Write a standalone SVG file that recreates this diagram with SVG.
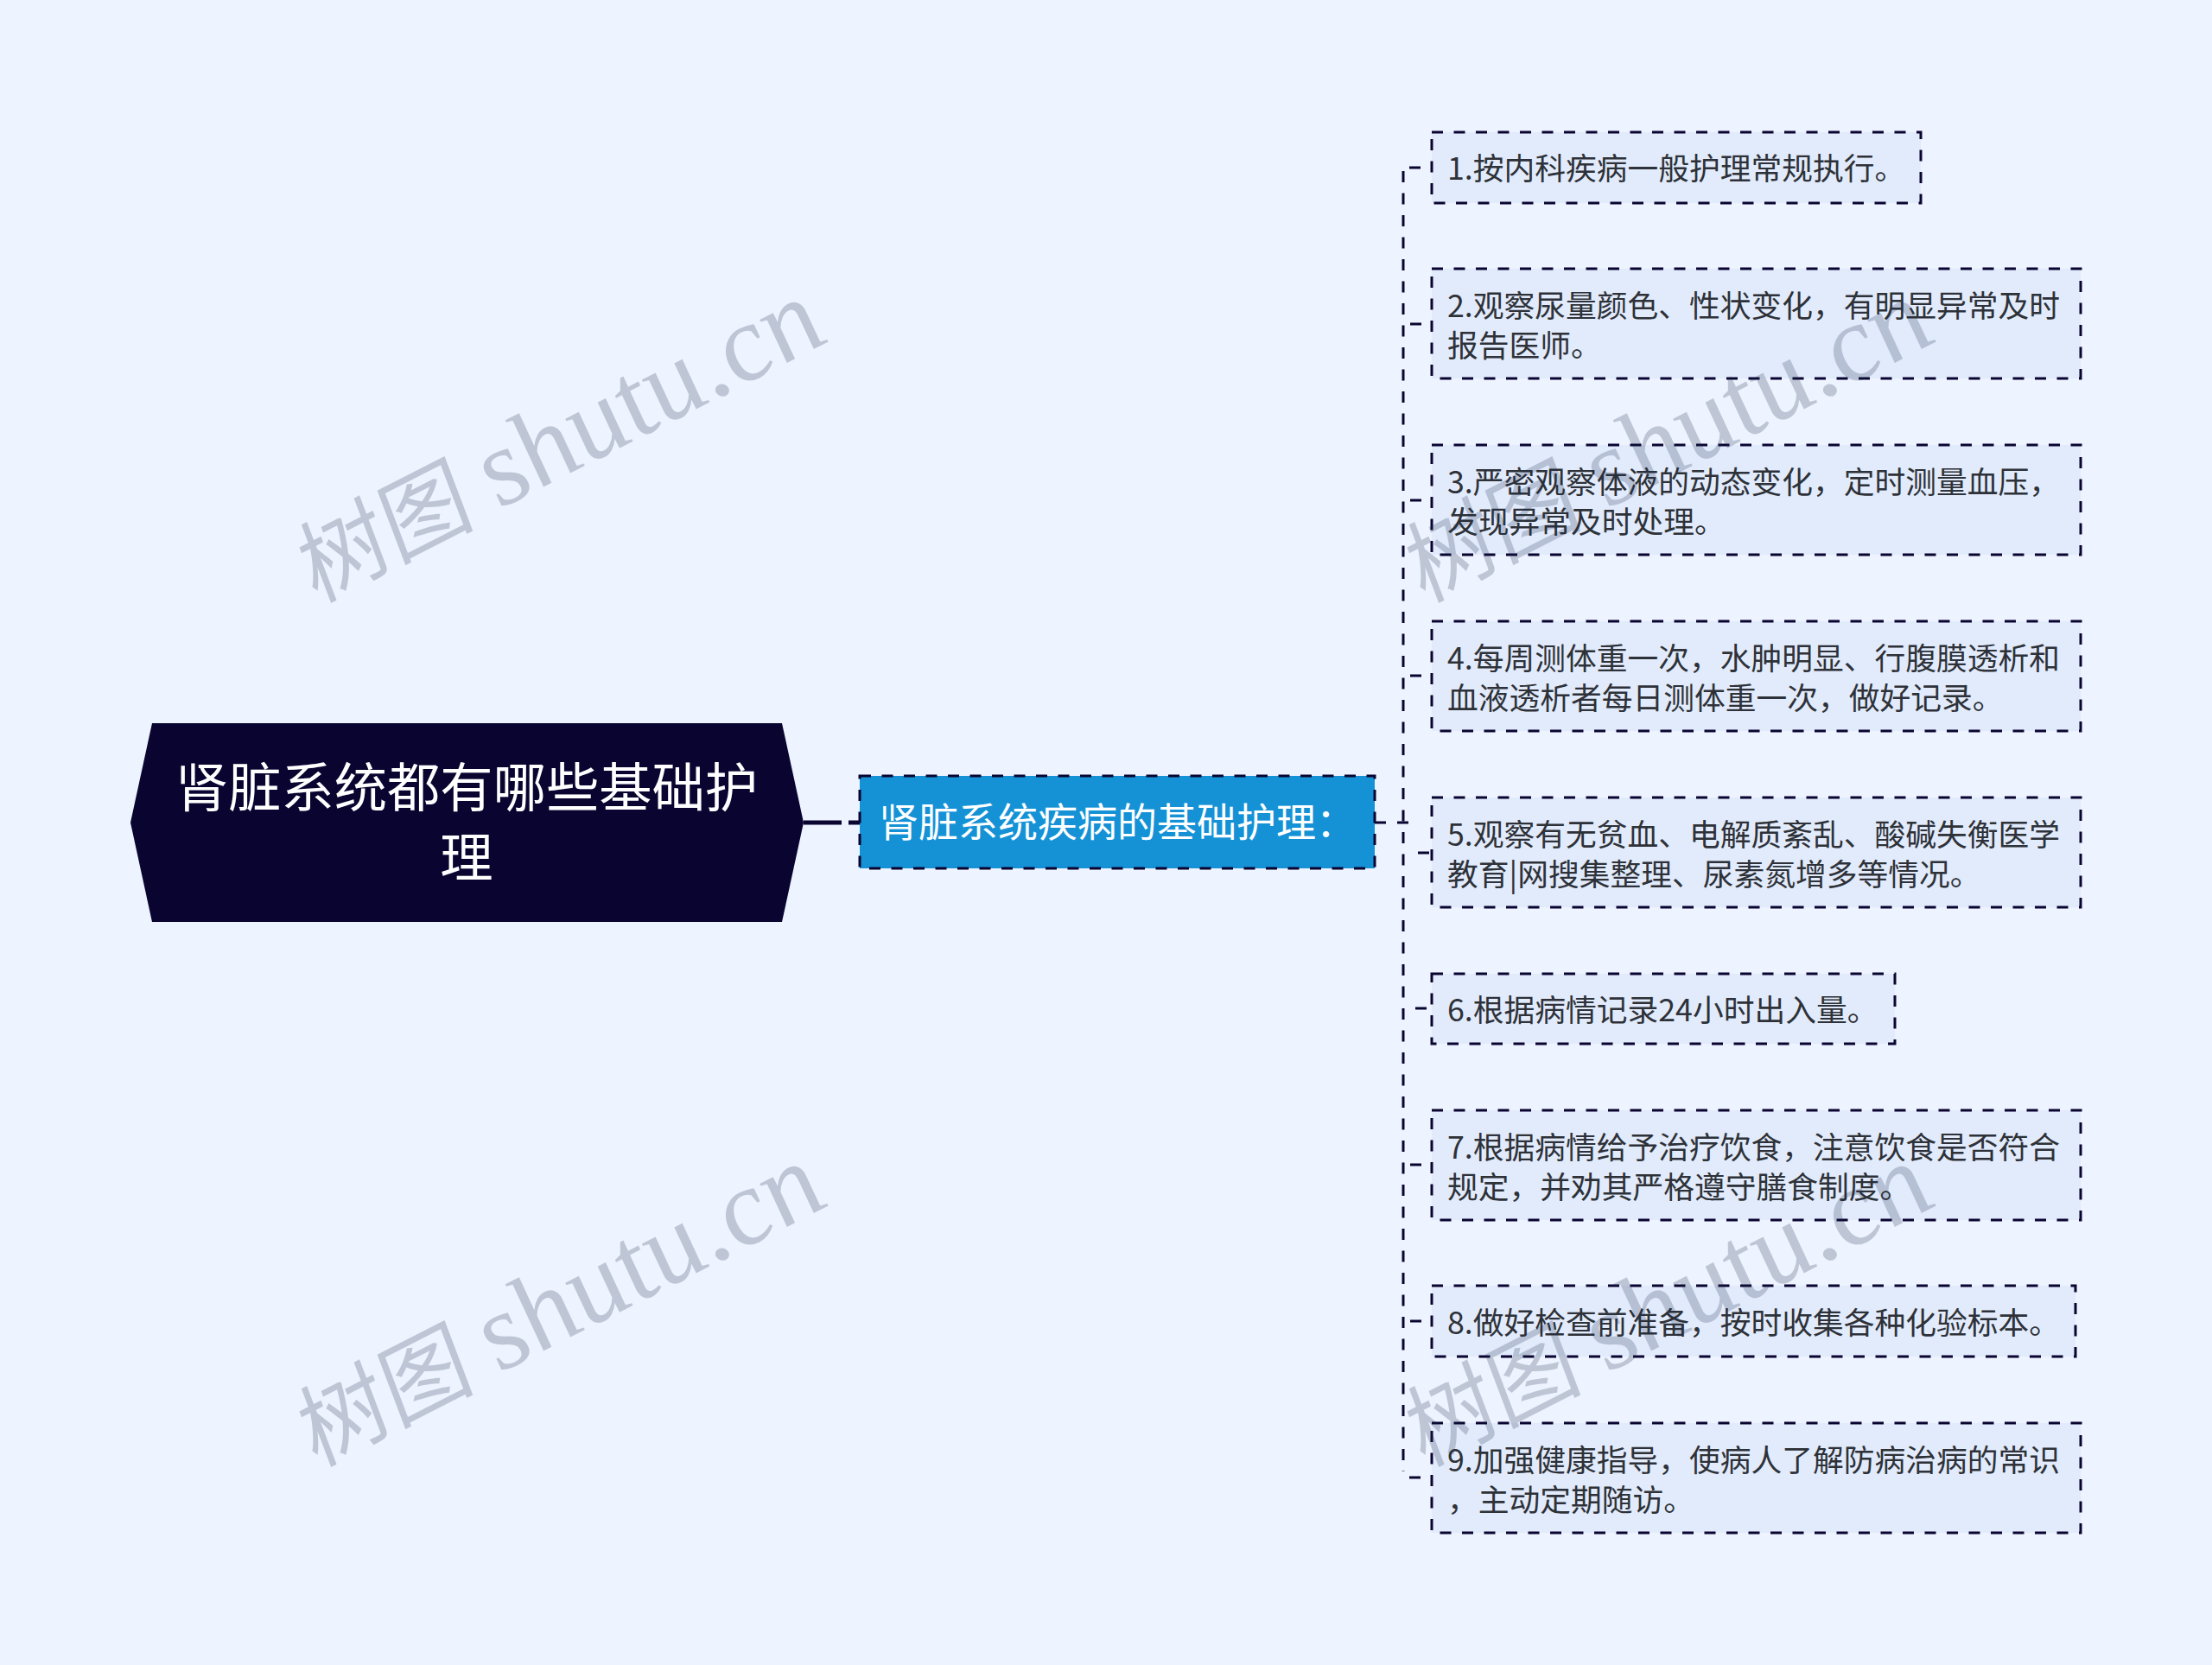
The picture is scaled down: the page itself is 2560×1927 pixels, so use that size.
<svg xmlns="http://www.w3.org/2000/svg" width="2560" height="1927" viewBox="0 0 2560 1927">
<style>
text{font-family:"Noto Sans CJK SC","Noto Sans",sans-serif}
.leaf rect{fill:#E2EBFC;stroke:#0A0530;stroke-width:3;stroke-dasharray:13 12.5}
.leaf text{font-size:35.75px;fill:#2E3238}
.con path{fill:none;stroke:#0A0530;stroke-width:3;stroke-dasharray:13 12.5}
.wm{font-family:"Liberation Serif","Noto Sans CJK SC",serif;font-style:italic;font-size:128px;fill:#1A2A4A;opacity:.22}
.wm .c{font-family:"Noto Sans CJK SC",serif;font-size:105px}
</style>
<rect width="2560" height="1927" fill="#EDF3FF"/>
<g id="connectors" class="con">
<path d="M930 952H974" style="stroke-width:5;stroke-dasharray:none"/>
<path d="M982 952H995" style="stroke-width:5;stroke-dasharray:none"/>
<path d="M1591 952H1604M1617 952H1630"/>
<path d="M1624 198V1703"/>
<path d="M1631 194H1644M1631 1710H1644M1632 375H1645M1632 579H1645M1632 782H1645M1641 987H1654M1638 1167H1651M1632 1348H1645M1632 1529H1645"/>
</g>
<g id="root"><path d="M176 837H905L930 952L905 1067H176L151 952Z" fill="#0A0530"/>
<text x="540" y="934" font-size="61.3" fill="#fff" text-anchor="middle">肾脏系统都有哪些基础护</text>
<text x="540" y="1015" font-size="61.3" fill="#fff" text-anchor="middle">理</text></g>
<g id="center"><rect x="995" y="898" width="596" height="107" fill="#1592D6" stroke="#0A0530" stroke-width="3" stroke-dasharray="13 12.5"/>
<text x="1017" y="968" font-size="46" fill="#fff">肾脏系统疾病的基础护理：</text></g>
<g id="n1" class="leaf"><rect x="1657" y="153" width="566" height="82"/><text x="1675" y="208">1.按内科疾病一般护理常规执行。</text></g>
<g id="n2" class="leaf"><rect x="1657" y="311" width="751" height="127"/><text x="1675" y="367">2.观察尿量颜色、性状变化，有明显异常及时</text><text x="1675" y="413">报告医师。</text></g>
<g id="n3" class="leaf"><rect x="1657" y="515" width="751" height="127"/><text x="1675" y="571">3.严密观察体液的动态变化，定时测量血压，</text><text x="1675" y="617">发现异常及时处理。</text></g>
<g id="n4" class="leaf"><rect x="1657" y="719" width="751" height="127"/><text x="1675" y="775">4.每周测体重一次，水肿明显、行腹膜透析和</text><text x="1675" y="821">血液透析者每日测体重一次，做好记录。</text></g>
<g id="n5" class="leaf"><rect x="1657" y="923" width="751" height="127"/><text x="1675" y="979">5.观察有无贫血、电解质紊乱、酸碱失衡医学</text><text x="1675" y="1025">教育|网搜集整理、尿素氮增多等情况。</text></g>
<g id="n6" class="leaf"><rect x="1657" y="1127" width="536" height="81"/><text x="1675" y="1182">6.根据病情记录24小时出入量。</text></g>
<g id="n7" class="leaf"><rect x="1657" y="1285" width="751" height="127"/><text x="1675" y="1341">7.根据病情给予治疗饮食，注意饮食是否符合</text><text x="1675" y="1387">规定，并劝其严格遵守膳食制度。</text></g>
<g id="n8" class="leaf"><rect x="1657" y="1488" width="745" height="82"/><text x="1675" y="1544">8.做好检查前准备，按时收集各种化验标本。</text></g>
<g id="n9" class="leaf"><rect x="1657" y="1647" width="751" height="127"/><text x="1675" y="1703">9.加强健康指导，使病人了解防病治病的常识</text><text x="1675" y="1749">，主动定期随访。</text></g>
<g id="watermarks">
<text class="wm" transform="translate(365 698) rotate(-27) skewX(8)"><tspan class="c">树图</tspan> shutu.cn</text>
<text class="wm" transform="translate(1647 698) rotate(-27) skewX(8)"><tspan class="c">树图</tspan> shutu.cn</text>
<text class="wm" transform="translate(365 1698) rotate(-27) skewX(8)"><tspan class="c">树图</tspan> shutu.cn</text>
<text class="wm" transform="translate(1647 1698) rotate(-27) skewX(8)"><tspan class="c">树图</tspan> shutu.cn</text>
</g>
</svg>
